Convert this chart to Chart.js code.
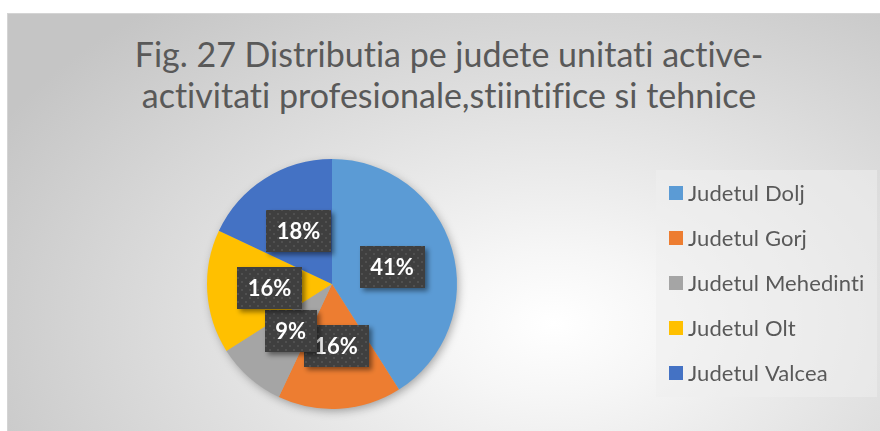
<!DOCTYPE html>
<html><head><meta charset="utf-8">
<script src="https://cdn.jsdelivr.net/npm/chart.js@4"></script>
<style>
html,body{margin:0;padding:0;width:880px;height:431px;overflow:hidden;background:#fff;}
#frame{position:absolute;left:7px;top:13px;width:880px;height:430px;border-top:1px solid #d4d4d4;border-left:1px solid #d4d4d4;
 background:radial-gradient(ellipse 72% 95% at 62% 72%, #ffffff 0%, #f6f6f6 18%, #c5c5c5 100%);}
#title{position:absolute;left:0;width:898px;top:33px;text-align:center;font-family:Lato,sans-serif;font-size:34px;line-height:41px;color:#595959;white-space:nowrap;font-variant-ligatures:none;font-feature-settings:"liga" 0,"clig" 0;}
#wrap{position:absolute;left:0;top:0;width:880px;height:431px;}
</style>
</head><body>
<div id="frame"></div>
<div id="title">Fig. 27 Distributia pe judete unitati active-<br>activitati profesionale,stiintifice si tehnice</div>
<div id="wrap"><canvas id="c" width="880" height="431"></canvas></div>
<script>
const categories = ['Judetul Dolj','Judetul Gorj','Judetul Mehedinti','Judetul Olt','Judetul Valcea'];
const values = [41,16,9,16,18];
const colors = ['#5B9BD5','#ED7D31','#A5A5A5','#FFC000','#4472C4'];

function makePattern(ctx){
  const p=document.createElement('canvas'); p.width=8; p.height=8;
  const g=p.getContext('2d');
  g.fillStyle='#3f3f3f'; g.fillRect(0,0,8,8);
  g.fillStyle='#505050';
  g.fillRect(1,1,2,2); g.fillRect(5,5,2,2);
  return ctx.createPattern(p,'repeat');
}

const pieShadow={id:'pieShadow',beforeDatasetsDraw(chart){
  const a=chart.getDatasetMeta(0).data[0]; if(!a) return;
  const ctx=chart.ctx; ctx.save();
  ctx.shadowColor='rgba(0,0,0,0.35)'; ctx.shadowBlur=10; ctx.shadowOffsetX=2; ctx.shadowOffsetY=3;
  ctx.fillStyle='#aaaaaa'; ctx.beginPath(); ctx.arc(a.x,a.y,a.outerRadius-1,0,Math.PI*2); ctx.fill();
  ctx.restore();
}};

const boxLabels={id:'boxLabels',afterDatasetsDraw(chart){
  const ctx=chart.ctx; const meta=chart.getDatasetMeta(0);
  const ds=chart.data.datasets[0].data; const total=ds.reduce((s,v)=>s+v,0);
  const pat=makePattern(ctx);
  ctx.save();
  ctx.font='bold 22px Lato, sans-serif';
  meta.data.forEach((arc,i)=>{
    const mid=(arc.startAngle+arc.endAngle)/2, r=arc.outerRadius*0.5;
    const x=arc.x+Math.cos(mid)*r, y=arc.y+Math.sin(mid)*r;
    const txt=Math.round(ds[i]/total*100)+'%';
    const w=ctx.measureText(txt).width+21, h=42;
    ctx.save();
    ctx.shadowColor='rgba(0,0,0,0.45)'; ctx.shadowBlur=5; ctx.shadowOffsetX=3; ctx.shadowOffsetY=3;
    ctx.fillStyle=pat; ctx.fillRect(Math.round(x-w/2),Math.round(y-h/2),Math.round(w),h);
    ctx.restore();
    ctx.fillStyle='#ffffff'; ctx.textAlign='center'; ctx.textBaseline='middle';
    ctx.fillText(txt,x,y+1);
  });
  ctx.restore();
}};

const sideLegend={id:'sideLegend',afterDraw(chart){
  const ctx=chart.ctx; ctx.save();
  ctx.fillStyle='rgba(238,238,238,0.55)'; ctx.fillRect(656,170,221,227);
  ctx.font='22px Lato, sans-serif'; ctx.textBaseline='middle'; ctx.textAlign='left';
  try{ctx.letterSpacing='0.1px';}catch(e){}
  chart.data.labels.forEach((lab,i)=>{
    const y=193+i*45;
    ctx.fillStyle=chart.data.datasets[0].backgroundColor[i];
    ctx.fillRect(669,y-7,14,14);
    ctx.fillStyle='#595959'; ctx.fillText(lab,688,y+1);
  });
  ctx.restore();
}};

new Chart(document.getElementById('c'),{
  type:'pie',
  data:{labels:categories,datasets:[{data:values,backgroundColor:colors,borderWidth:0}]},
  options:{responsive:false,animation:false,
    layout:{padding:{left:207,right:423,top:158,bottom:21}},
    plugins:{legend:{display:false},title:{display:false},tooltip:{enabled:false}}},
  plugins:[pieShadow,boxLabels,sideLegend]
});
</script>
</body></html>
